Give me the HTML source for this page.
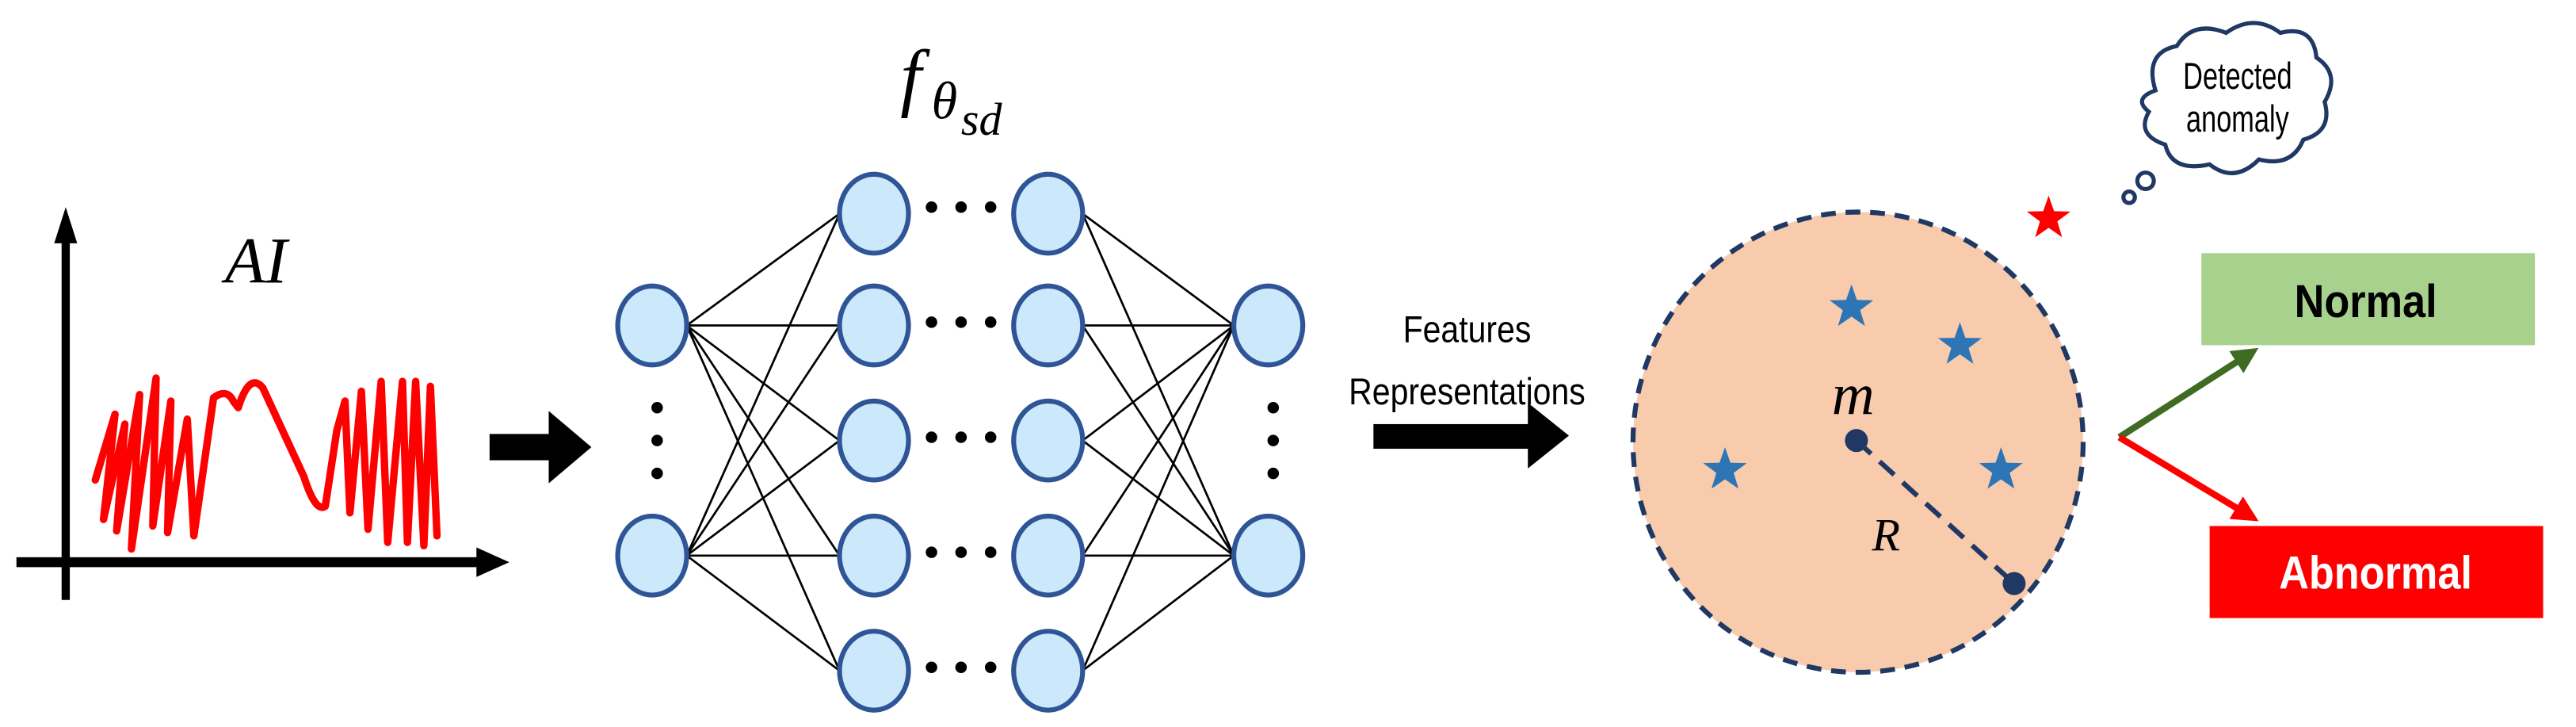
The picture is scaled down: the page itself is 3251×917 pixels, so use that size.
<!DOCTYPE html>
<html><head><meta charset="utf-8"><style>
html,body{margin:0;padding:0;background:#fff;}
svg{display:block;}
</style></head><body>
<svg width="3251" height="917" viewBox="0 0 1568 442.27" preserveAspectRatio="none" xmlns="http://www.w3.org/2000/svg">
<defs>
<marker id="ag" markerWidth="4" markerHeight="4" refX="2" refY="2" orient="auto"><path d="M0,0 L4,2 L0,4 z" fill="#3f6b22"/></marker>
<marker id="ar" markerWidth="4" markerHeight="4" refX="2" refY="2" orient="auto"><path d="M0,0 L4,2 L0,4 z" fill="#ff0000"/></marker>
<path id="st" d="M0,-14 L3.3,-4.5 L13.3,-4.3 L5.3,1.7 L8.2,11.3 L0,5.6 L-8.2,11.3 L-5.3,1.7 L-13.3,-4.3 L-3.3,-4.5 z"/>
</defs>
<line x1="40" y1="365" x2="40" y2="145" stroke="#000" stroke-width="5"/>
<path d="M33,148 L40,126 L47,148 z" fill="#000"/>
<line x1="10" y1="342" x2="292" y2="342" stroke="#000" stroke-width="6"/>
<path d="M290,333 L310,342 L290,351 z" fill="#000"/>
<text x="137" y="172" font-family="Liberation Serif, serif" font-style="italic" font-size="40">AI</text>
<path fill="none" stroke="#ff0000" stroke-width="4.5" stroke-linejoin="round" stroke-linecap="round" d="M58,292 L70,252 L63,316 L76,258 L71,323 L85,240 L80,334 L95,230 L93,320 L104,244 L102,324 L114,255 L118,326 L130,242 Q138,236 142,244 L145,248 Q152,226 160,236 L185,290 Q192,312 198,308 L205,262 L210,244 L213,312 L220,238 L224,322 L232,232 L236,330 L245,232 L248,330 L253,232 L258,332 L262,235 L266,326"/>
<rect x="298" y="264" width="38" height="16" fill="#000"/>
<path d="M334,250 L360,272 L334,294 z" fill="#000"/>
<g stroke="#000" stroke-width="1.3">
<line x1="418" y1="198" x2="511" y2="130"/><line x1="418" y1="198" x2="511" y2="198"/><line x1="418" y1="198" x2="511" y2="268"/><line x1="418" y1="198" x2="511" y2="338"/><line x1="418" y1="198" x2="511" y2="408"/>
<line x1="418" y1="338" x2="511" y2="130"/><line x1="418" y1="338" x2="511" y2="198"/><line x1="418" y1="338" x2="511" y2="268"/><line x1="418" y1="338" x2="511" y2="338"/><line x1="418" y1="338" x2="511" y2="408"/>
<line x1="751" y1="198" x2="659" y2="130"/><line x1="751" y1="198" x2="659" y2="198"/><line x1="751" y1="198" x2="659" y2="268"/><line x1="751" y1="198" x2="659" y2="338"/><line x1="751" y1="198" x2="659" y2="408"/>
<line x1="751" y1="338" x2="659" y2="130"/><line x1="751" y1="338" x2="659" y2="198"/><line x1="751" y1="338" x2="659" y2="268"/><line x1="751" y1="338" x2="659" y2="338"/><line x1="751" y1="338" x2="659" y2="408"/>
</g>
<g fill="#cce8fb" stroke="#2f5597" stroke-width="3">
<ellipse cx="397" cy="198" rx="21" ry="24"/><ellipse cx="397" cy="338" rx="21" ry="24"/>
<ellipse cx="772" cy="198" rx="21" ry="24"/><ellipse cx="772" cy="338" rx="21" ry="24"/>
<ellipse cx="532" cy="130" rx="21" ry="24"/><ellipse cx="532" cy="198" rx="21" ry="24"/><ellipse cx="532" cy="268" rx="21" ry="24"/><ellipse cx="532" cy="338" rx="21" ry="24"/><ellipse cx="532" cy="408" rx="21" ry="24"/>
<ellipse cx="638" cy="130" rx="21" ry="24"/><ellipse cx="638" cy="198" rx="21" ry="24"/><ellipse cx="638" cy="268" rx="21" ry="24"/><ellipse cx="638" cy="338" rx="21" ry="24"/><ellipse cx="638" cy="408" rx="21" ry="24"/>
</g>
<g fill="#000">
<circle cx="400" cy="248" r="3.5"/><circle cx="400" cy="268" r="3.5"/><circle cx="400" cy="288" r="3.5"/>
<circle cx="775" cy="248" r="3.5"/><circle cx="775" cy="268" r="3.5"/><circle cx="775" cy="288" r="3.5"/>
<g id="d"><circle cx="567" cy="126" r="3.5"/><circle cx="585" cy="126" r="3.5"/><circle cx="603" cy="126" r="3.5"/></g>
<use href="#d" y="70"/><use href="#d" y="140"/><use href="#d" y="210"/><use href="#d" y="280"/>
</g>
<text x="548" y="62" font-family="Liberation Serif, serif" font-style="italic" font-size="46">f</text>
<text x="567" y="72" font-family="Liberation Serif, serif" font-style="italic" font-size="32">θ</text>
<text x="585" y="82" font-family="Liberation Serif, serif" font-style="italic" font-size="28">sd</text>
<text x="893" y="208" text-anchor="middle" font-family="Liberation Sans, sans-serif" font-size="23" transform="translate(893,0) scale(0.86,1) translate(-893,0)">Features</text>
<text x="893" y="246" text-anchor="middle" font-family="Liberation Sans, sans-serif" font-size="23" transform="translate(893,0) scale(0.86,1) translate(-893,0)">Representations</text>
<rect x="836" y="258" width="96" height="15" fill="#000"/>
<path d="M930,245 L955,265 L930,285 z" fill="#000"/>
<ellipse cx="1131" cy="269" rx="137" ry="140" fill="#f8cbad" stroke="#1f3864" stroke-width="3" stroke-dasharray="9,6"/>
<g fill="#2e75b6">
<use href="#st" x="1127" y="187"/><use href="#st" x="1193" y="210"/><use href="#st" x="1050" y="286"/><use href="#st" x="1218" y="286"/>
</g>
<use href="#st" x="1247" y="133" fill="#ff0000"/>
<line x1="1130" y1="268" x2="1226" y2="355" stroke="#1f3864" stroke-width="3" stroke-dasharray="12,7"/>
<circle cx="1130" cy="268" r="7" fill="#1f3864"/><circle cx="1226" cy="355" r="7" fill="#1f3864"/>
<text x="1128" y="252" text-anchor="middle" font-family="Liberation Serif, serif" font-style="italic" font-size="36">m</text>
<text x="1148" y="335" text-anchor="middle" font-family="Liberation Serif, serif" font-style="italic" font-size="28">R</text>
<path d="M1312,55 Q1305,32 1325,28 Q1335,12 1355,20 Q1372,8 1388,20 Q1408,15 1410,35 Q1425,45 1415,62 Q1420,80 1402,85 Q1395,102 1375,97 Q1360,112 1345,100 Q1322,105 1318,88 Q1300,82 1308,68 Q1298,60 1312,55 z" fill="#fff" stroke="#1f3864" stroke-width="2.5"/>
<circle cx="1306" cy="110" r="5" fill="#fff" stroke="#1f3864" stroke-width="2.5"/>
<circle cx="1296" cy="120" r="3.5" fill="#fff" stroke="#1f3864" stroke-width="2.5"/>
<text x="1362" y="54" text-anchor="middle" font-family="Liberation Sans, sans-serif" font-size="23" transform="translate(1362,0) scale(0.72,1) translate(-1362,0)">Detected</text>
<text x="1362" y="80" text-anchor="middle" font-family="Liberation Sans, sans-serif" font-size="23" transform="translate(1362,0) scale(0.72,1) translate(-1362,0)">anomaly</text>
<rect x="1340" y="154" width="203" height="56" fill="#a9d18e"/>
<text x="1440" y="193" text-anchor="middle" font-family="Liberation Sans, sans-serif" font-weight="bold" font-size="28" transform="translate(1440,0) scale(0.9,1) translate(-1440,0)">Normal</text>
<rect x="1345" y="320" width="203" height="56" fill="#ff0000"/>
<text x="1446" y="358" text-anchor="middle" font-family="Liberation Sans, sans-serif" font-weight="bold" font-size="28" fill="#fff" transform="translate(1446,0) scale(0.9,1) translate(-1446,0)">Abnormal</text>
<line x1="1290" y1="266" x2="1368" y2="216" stroke="#3f6b22" stroke-width="4" marker-end="url(#ag)"/>
<line x1="1290" y1="266" x2="1368" y2="313" stroke="#ff0000" stroke-width="4" marker-end="url(#ar)"/>
</svg>
</body></html>
